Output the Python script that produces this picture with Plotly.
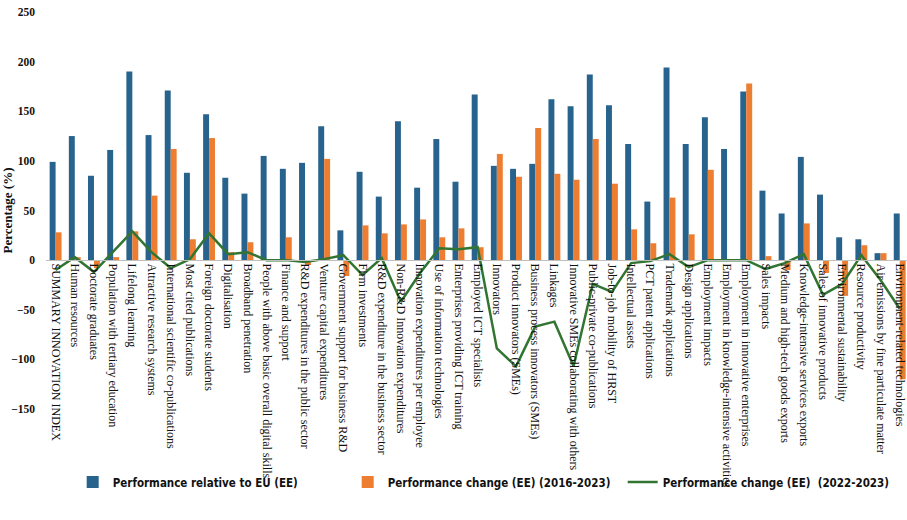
import plotly.graph_objects as go

# Innovation scoreboard indicators (EE)
categories = [
    "SUMMARY INNOVATION INDEX", "Human resources", "Doctorate graduates",
    "Population with tertiary education", "Lifelong learning",
    "Attractive research systems", "International scientific co-publications",
    "Most cited publications", "Foreign doctorate students", "Digitalisation",
    "Broadband penetration", "People with above basic overall digital skills",
    "Finance and support", "R&D expenditures in the public sector",
    "Venture capital expenditures", "Government support for business R&D",
    "Firm investments", "R&D expenditure in the business sector",
    "Non-R&D Innovation expenditures", "Innovation expenditures per employee",
    "Use of information technologies", "Enterprises providing ICT training",
    "Employed ICT specialists", "Innovators", "Product innovators (SMEs)",
    "Business process innovators (SMEs)", "Linkages",
    "Innovative SMEs collaborating with others", "Public-private co-publications",
    "Job-to-job mobility of HRST", "Intellectual assets", "PCT patent applications",
    "Trademark applications", "Design applications", "Employment impacts",
    "Employment in knowledge-intensive activities",
    "Employment in innovative enterprises", "Sales impacts",
    "Medium and high-tech goods exports", "Knowledge-intensive services exports",
    "Sales of innovative products", "Environmental sustainability",
    "Resource productivity", "Air emissions by fine particulate matter",
    "Environment-related technologies",
]

relative_to_eu = [
    99, 125, 85, 111, 190, 126, 171, 88, 147, 83,
    67, 105, 92, 98, 135, 30, 89, 64, 140, 73,
    122, 79, 167, 95, 92, 97, 162, 155, 187, 156,
    117, 59, 194, 117, 144, 112, 170, 70, 47, 104,
    66, 23, 21, 7, 47,
]

change_2016_2023 = [
    28, 3, -8, 3, 29, 65, 112, 21, 123, 8,
    18, 0, 23, -5, 102, -16, 35, 27, 36, 41,
    23, 32, 13, 107, 84, 133, 87, 81, 122, 77,
    31, 17, 63, 26, 91, 0, 178, 4, -10, 37,
    -13, -36, 15, 7, -120,
]

change_2022_2023 = [
    -10, 3, -12, 8, 29, 8, -8, 1, 27, 6,
    8, 0, 0, -2, 1, 5, -15, 2, -42, -13,
    12, 11, 13, -89, -107, -67, -62, -107, -24, -32,
    -3, -1, 6, -7, 0, 0, 0, -9, -3, 6,
    -35, -24, 5, -20, -49,
]

BLUE = "#27638D"
ORANGE = "#ED7D31"
GREEN = "#327532"
SERIF = "Liberation Serif, Times New Roman, serif"
NARROW = "Liberation Sans Narrow, Arial Narrow, DejaVu Sans Condensed, sans-serif"

fig = go.Figure()
fig.add_trace(go.Bar(
    x=categories, y=relative_to_eu, name="Performance relative to EU (EE)",
    marker=dict(color=BLUE, line=dict(width=0)),
))
fig.add_trace(go.Bar(
    x=categories, y=change_2016_2023, name="Performance change (EE) (2016-2023)",
    marker=dict(color=ORANGE, line=dict(width=0)),
))
fig.add_trace(go.Scatter(
    x=categories, y=change_2022_2023, name="Performance change (EE)  (2022-2023)",
    mode="lines", line=dict(color=GREEN, width=2.5),
))

fig.update_layout(
    width=907, height=520,
    margin=dict(l=46, r=0, t=12, b=111),
    paper_bgcolor="white", plot_bgcolor="white",
    barmode="group", bargap=0.38, bargroupgap=0,
    showlegend=True,
    legend=dict(
        orientation="h", x=0.031, xanchor="left", y=-0.184, yanchor="middle",
        font=dict(family=NARROW, size=11.5, color="#111", weight="bold"),
        bgcolor="rgba(0,0,0,0)", entrywidth=230, entrywidthmode="pixels",
    ),
    xaxis=dict(
        type="category", categoryorder="array", categoryarray=categories,
        range=[-0.5, 44.38], anchor="free", position=0.375,
        showline=True, linecolor="#BFBFBF", linewidth=1,
        showgrid=False, zeroline=False, ticks="", tickangle=90,
        tickfont=dict(family=SERIF, size=12, color="#111"),
        automargin=False,
    ),
    yaxis=dict(
        range=[-150, 250], tickmode="array",
        tickvals=[-150, -100, -50, 0, 50, 100, 150, 200, 250],
        showgrid=False, zeroline=False, showline=False, ticks="",
        ticklabelstandoff=10,
        tickfont=dict(family=SERIF, size=11.5, color="#111", weight="bold"),
        title=dict(text="Percentage (%)", standoff=6,
                   font=dict(family=SERIF, size=13, color="#111", weight="bold")),
        automargin=False,
    ),
)

fig.write_html("out.html")
